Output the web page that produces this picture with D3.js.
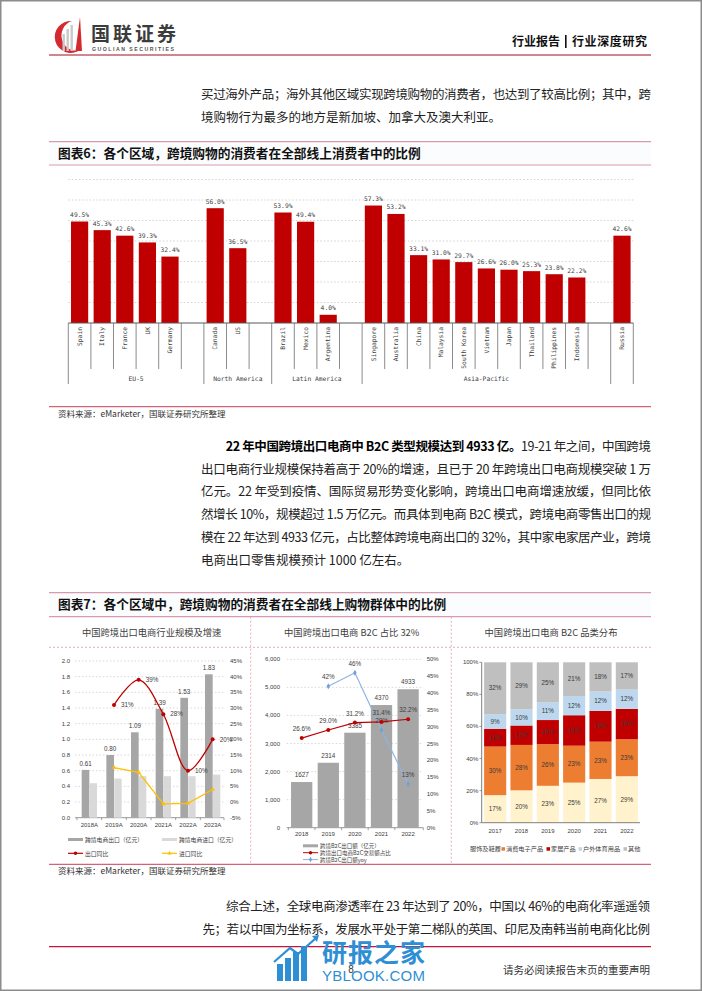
<!DOCTYPE html>
<html><head><meta charset="utf-8">
<script src="https://cdn.jsdelivr.net/npm/d3@7/dist/d3.min.js"></script>
<style>html,body{margin:0;padding:0;background:#fff;}svg{display:block;}</style>
</head><body>
<svg id="page" width="702" height="991"></svg>
<script>
// ---------------- DATA ----------------
const regionCategories = ["Spain","Italy","France","UK","Germany","Canada","US","Brazil","Mexico","Argentina","Singapore","Australia","China","Malaysia","South Korea","Vietnam","Japan","Thailand","Philippines","Indonesia","Russia"];
const regionValues = [49.5,45.3,42.6,39.3,32.4,56.0,36.5,53.9,49.4,4.0,57.3,53.2,33.1,31.0,29.7,26.6,26.0,25.3,23.8,22.2,42.6];
const regionGroupNames = ["EU-5","North America","Latin America","Asia-Pacific",""];
const regionGroupSizes = [5,2,3,10,1];

const scaleYears = ["2018A","2019A","2020A","2021A","2022A","2023A"];
const exportValues = [0.61,0.80,1.09,1.39,1.53,1.83];
const importValues = [0.44,0.50,0.53,0.53,0.53,0.55];
const exportYoY = [null,31,39,28,10,20];
const importYoY = [null,11,9.5,-0.6,-0.4,4];
const scaleLeftTicks = [0,0.2,0.4,0.6,0.8,1.0,1.2,1.4,1.6,1.8,2.0];
const scaleRightTicks = [-5,0,5,10,15,20,25,30,35,40,45];

const b2cYears = ["2018","2019","2020","2021","2022"];
const b2cExport = [1627,2314,3385,4370,4933];
const b2cShare = [26.6,29.0,31.2,31.4,32.2];
const b2cYoY = [null,42,46,29,13];
const b2cLeftTicks = [0,1000,2000,3000,4000,5000,6000];
const b2cRightTicks = [0,5,10,15,20,25,30,35,40,45,50];

const mixYears = ["2017","2018","2019","2020","2021","2022"];
const mixSeries = ["服饰及鞋履","消费电子产品","家居产品","户外体育用品","其他"];
const mixApparel = [17,20,23,25,27,29];
const mixElectronics = [30,28,26,23,23,23];
const mixHome = [11,12,15,19,19,19];
const mixOutdoor = [9,10,11,12,12,12];
const mixOther = [32,29,25,21,18,17];
const mixTicks = [0,0.2,0.4,0.6,0.8,1.0];

// ---------------- HELPERS ----------------
const CJK = "'Noto Sans CJK SC','Noto Sans',sans-serif";
const MONO = "'DejaVu Sans Mono','Liberation Mono',monospace";
const SANS = "'Liberation Sans',Arial,sans-serif";
const svg = d3.select("#page");
function txt(g,x,y,s,o={}){
  const t=g.append("text").attr("x",x).attr("y",y).text(s)
    .attr("font-family",o.ff||CJK).attr("font-size",o.fs||10).attr("fill",o.fill||"#333");
  if(o.fw) t.attr("font-weight",o.fw);
  if(o.anchor) t.attr("text-anchor",o.anchor);
  if(o.len) t.attr("textLength",o.len).attr("lengthAdjust","spacing");
  if(o.dy) t.attr("dy",o.dy);
  return t;
}
function hline(g,x1,x2,y,stroke,w,dash){
  const l=g.append("line").attr("x1",x1).attr("x2",x2).attr("y1",y).attr("y2",y).attr("stroke",stroke).attr("stroke-width",w);
  if(dash) l.attr("stroke-dasharray",dash);
  return l;
}
function vline(g,x,y1,y2,stroke,w,dash){
  const l=g.append("line").attr("x1",x).attr("x2",x).attr("y1",y1).attr("y2",y2).attr("stroke",stroke).attr("stroke-width",w);
  if(dash) l.attr("stroke-dasharray",dash);
  return l;
}

// page border
svg.append("rect").attr("x",0.75).attr("y",0.75).attr("width",700.5).attr("height",989.5)
  .attr("fill","#fff").attr("stroke","#8c8c8c").attr("stroke-width",1.5);

// ---------------- HEADER ----------------
const hd = svg.append("g");
hd.append("path").attr("d","M72,21 A16,16 0 1,0 80,50 A12.5,13 0 1,1 72,21 Z").attr("fill","#d42a2f");
hd.append("rect").attr("x",62.5).attr("y",34).attr("width",2.4).attr("height",17).attr("fill","#c9c9c9");
hd.append("rect").attr("x",66.5).attr("y",29).attr("width",2.4).attr("height",22).attr("fill","#c9c9c9");
hd.append("rect").attr("x",70.5).attr("y",25).attr("width",2.4).attr("height",26).attr("fill","#c9c9c9");
hd.append("polygon").attr("points","75.5,51 80,17 82,51").attr("fill","#d42a2f");
txt(hd,91,41,"国联证券",{fs:19,fw:700,fill:"#3c3c3c",len:85});
txt(hd,92,50.5,"GUOLIAN SECURITIES",{ff:SANS,fs:5.2,fw:700,fill:"#555",len:82});
txt(hd,512,46,"行业报告",{fs:12,fw:700,fill:"#111",len:48});
hd.append("rect").attr("x",565).attr("y",35).attr("width",1.6).attr("height",13).attr("fill","#111");
txt(hd,572,46,"行业深度研究",{fs:12,fw:700,fill:"#111",len:75});
hline(hd,49,651,55,"#d0868d",2);

// ---------------- PARAGRAPHS ----------------
const P = svg.append("g");
const PF = 12.5, PC = "#222";
txt(P,201,99,"买过海外产品；海外其他区域实现跨境购物的消费者，也达到了较高比例；其中，跨",{fs:PF,fill:PC,len:450});
txt(P,201,122,"境购物行为最多的地方是新加坡、加拿大及澳大利亚。",{fs:PF,fill:PC});

// para 2
const p2y = [451,473.7,496.4,519.1,541.8,564.5];
{
  const t = P.append("text").attr("x",225.7).attr("y",p2y[0]).attr("font-family",CJK).attr("font-size",PF).attr("fill",PC)
    .attr("textLength",425.3).attr("lengthAdjust","spacing");
  t.append("tspan").attr("font-weight",700).attr("fill","#000").text("22 年中国跨境出口电商中 B2C 类型规模达到 4933 亿。");
  t.append("tspan").text("19-21 年之间，中国跨境");
}
txt(P,201,p2y[1],"出口电商行业规模保持着高于 20%的增速，且已于 20 年跨境出口电商规模突破 1 万",{fs:PF,fill:PC,len:450});
txt(P,201,p2y[2],"亿元。22 年受到疫情、国际贸易形势变化影响，跨境出口电商增速放缓，但同比依",{fs:PF,fill:PC,len:450});
txt(P,201,p2y[3],"然增长 10%，规模超过 1.5 万亿元。而具体到电商 B2C 模式，跨境电商零售出口的规",{fs:PF,fill:PC,len:450});
txt(P,201,p2y[4],"模在 22 年达到 4933 亿元，占比整体跨境电商出口的 32%，其中家电家居产业，跨境",{fs:PF,fill:PC,len:450});
txt(P,201,p2y[5],"电商出口零售规模预计 1000 亿左右。",{fs:PF,fill:PC});

// para 3
txt(P,226,910.5,"综合上述，全球电商渗透率在 23 年达到了 20%，中国以 46%的电商化率遥遥领",{fs:PF,fill:PC,len:424});
txt(P,202.4,933.5,"先；若以中国为坐标系，发展水平处于第二梯队的英国、印尼及南韩当前电商化比例",{fs:PF,fill:PC,len:447.6});

// ---------------- TITLE BARS ----------------
function titleBar(yTop,yBot,text,base){
  svg.append("rect").attr("x",49).attr("y",yTop).attr("width",602).attr("height",yBot-yTop).attr("fill","#fafcfd");
  hline(svg,49,651,yTop,"#d99ab0",1.2);
  hline(svg,49,651,yBot,"#d99ab0",1.2);
  txt(svg,58,base,text,{fs:12.7,fw:700,fill:"#111"});
}
titleBar(141.7,165,"图表6：各个区域，跨境购物的消费者在全部线上消费者中的比例",157.8);
titleBar(592.7,616.7,"图表7：各个区域中，跨境购物的消费者在全部线上购物群体中的比例",609.3);

// source lines
function source(yLine,base){
  hline(svg,49,651,yLine,"#d4637a",1.3);
  txt(svg,58,base,"资料来源：eMarketer，国联证券研究所整理",{fs:8.5,fill:"#333"});
}
source(406.6,416.5);
source(864.3,874);

// ---------------- CHART 6 ----------------
const g6 = svg.append("g");
const slots=[], groupBounds=[];
{
  let k=0;
  regionGroupSizes.forEach((n,gi)=>{
    groupBounds.push(slots.length);
    for(let i=0;i<n;i++){ slots.push({name:regionCategories[k],value:regionValues[k]}); k++; }
    if(gi<regionGroupSizes.length-1) slots.push({name:null,value:null});
  });
  groupBounds.push(slots.length);
}
const x6 = d3.scaleBand().domain(d3.range(slots.length)).range([68.3,633.3]);
const y6 = d3.scaleLinear().domain([0,70]).range([323,179.5]);
const bx6 = i => i<slots.length ? x6(i) : x6.range()[1];
y6.ticks(7).filter(d=>d>0).forEach(t=>hline(g6,68.3,633.3,y6(t),"#c8c8c8",0.8,"1.5,2"));
const bars6 = slots.map((s,i)=>({...s,i})).filter(s=>s.value!=null);
g6.selectAll("rect.b6").data(bars6).join("rect").attr("class","b6")
  .attr("x",d=>x6(d.i)+x6.bandwidth()*0.12).attr("width",x6.bandwidth()*0.76)
  .attr("y",d=>y6(d.value)).attr("height",d=>y6(0)-y6(d.value)).attr("fill","#c00000");
g6.selectAll("text.v6").data(bars6).join("text").attr("class","v6")
  .attr("x",d=>x6(d.i)+x6.bandwidth()/2).attr("y",d=>y6(d.value)-4.5)
  .attr("text-anchor","middle").attr("font-family",MONO).attr("font-size",6.3).attr("fill","#404040")
  .text(d=>d3.format(".1f")(d.value)+"%");
// axis + separators
hline(g6,68.3,633.3,y6(0),"#595959",1);
d3.range(slots.length+1).forEach(i=>{
  const long = groupBounds.includes(i);
  vline(g6,bx6(i),y6(0),long?384:369,"#6f6f6f",0.8);
});
g6.selectAll("text.c6").data(bars6).join("text").attr("class","c6")
  .attr("transform",d=>`translate(${x6(d.i)+x6.bandwidth()/2},${y6(0)+4}) rotate(-90)`)
  .attr("text-anchor","end").attr("dy","0.35em")
  .attr("font-family",MONO).attr("font-size",6.3).attr("fill","#404040").text(d=>d.name);
regionGroupNames.forEach((n,gi)=>{
  if(!n) return;
  const cx=(bx6(groupBounds[gi])+bx6(groupBounds[gi+1]))/2;
  txt(g6,cx,380.5,n,{ff:MONO,fs:6.3,fill:"#404040",anchor:"middle"});
});

// ---------------- CHART 7 frame ----------------
const g7 = svg.append("g");
hline(g7,49,651,647.3,"#e4a3b8",0.9,"2,2");
vline(g7,250.7,616.7,864,"#e4a3b8",0.9,"2,2");
vline(g7,451.3,616.7,864,"#e4a3b8",0.9,"2,2");
txt(g7,151.7,636,"中国跨境出口电商行业规模及增速",{fs:9.3,fill:"#404040",anchor:"middle"});
txt(g7,351.7,636,"中国跨境出口电商 B2C 占比 32%",{fs:9.3,fill:"#404040",anchor:"middle"});
txt(g7,551,636,"中国跨境出口电商 B2C 品类分布",{fs:9.3,fill:"#404040",anchor:"middle"});
const AX = {ff:SANS,fs:6,fill:"#404040"};

// ---------------- CHART 7a ----------------
{
  const g = g7.append("g");
  const x = d3.scaleBand().domain(scaleYears).range([77,225]).paddingInner(0.38).paddingOuter(0.19);
  const yL = d3.scaleLinear().domain([0,2]).range([817.7,661]);
  const yR = d3.scaleLinear().domain([-5,45]).range([817.7,661]);
  scaleLeftTicks.forEach(t=>{
    if(t>0) hline(g,75,224,yL(t),"#cfcfcf",0.8,"1.5,2");
    txt(g,70,yL(t)+2,d3.format(".1f")(t),{...AX,anchor:"end"});
  });
  scaleRightTicks.forEach(t=>txt(g,230,yR(t)+2,t+"%",AX));
  hline(g,75,224,yL(0),"#8c8c8c",0.9);
  scaleYears.forEach((c,i)=>vline(g,x(c)-x.step()*x.paddingInner()/2,yL(0),yL(0)+2.5,"#8c8c8c",0.8));
  vline(g,224,yL(0),yL(0)+2.5,"#8c8c8c",0.8);
  const bw = x.bandwidth()/2;
  g.selectAll("rect.ex").data(scaleYears).join("rect").attr("x",d=>x(d)).attr("width",bw)
    .attr("y",(d,i)=>yL(exportValues[i])).attr("height",(d,i)=>yL(0)-yL(exportValues[i])).attr("fill","#a6a6a6");
  g.selectAll("rect.im").data(scaleYears).join("rect").attr("x",d=>x(d)+bw+0.3).attr("width",bw-0.3)
    .attr("y",(d,i)=>yL(importValues[i])).attr("height",(d,i)=>yL(0)-yL(importValues[i])).attr("fill","#d9d9d9");
  scaleYears.forEach((c,i)=>txt(g,x(c)+bw/2,yL(exportValues[i])-4,d3.format(".2f")(exportValues[i]),{...AX,fs:6.3,anchor:"middle"}));
  scaleYears.forEach(c=>txt(g,x(c)+x.bandwidth()/2,826.8,c,{...AX,anchor:"middle"}));
  const cx = c => x(c)+x.bandwidth()/2;
  const exPts = scaleYears.map((c,i)=>({c,v:exportYoY[i]})).filter(d=>d.v!=null);
  const imPts = scaleYears.map((c,i)=>({c,v:importYoY[i]})).filter(d=>d.v!=null);
  g.append("path").attr("d",d3.line().x(d=>cx(d.c)).y(d=>yR(d.v))(imPts)).attr("fill","none").attr("stroke","#ffc000").attr("stroke-width",1.3);
  imPts.forEach(d=>g.append("path").attr("d",d3.symbol(d3.symbolTriangle,9)()).attr("transform",`translate(${cx(d.c)},${yR(d.v)})`).attr("fill","#ffc000"));
  g.append("path").attr("d",d3.line().curve(d3.curveCatmullRom.alpha(0.5)).x(d=>cx(d.c)).y(d=>yR(d.v))(exPts)).attr("fill","none").attr("stroke","#c00000").attr("stroke-width",1.3);
  exPts.forEach(d=>{
    g.append("circle").attr("cx",cx(d.c)).attr("cy",yR(d.v)).attr("r",2).attr("fill","#c00000");
    txt(g,cx(d.c)+7,yR(d.v)+2.2,d.v+"%",{...AX,fs:6.3});
  });
  // legend
  g.append("rect").attr("x",68).attr("y",838).attr("width",15).attr("height",3).attr("fill","#a6a6a6");
  txt(g,85,842,"跨境电商出口（亿元）",{fs:5.8,fill:"#404040"});
  g.append("rect").attr("x",162).attr("y",838).attr("width",15).attr("height",3).attr("fill","#d9d9d9");
  txt(g,179,842,"跨境电商进口（亿元）",{fs:5.8,fill:"#404040"});
  hline(g,68,83,853.3,"#c00000",1.2); g.append("circle").attr("cx",75.5).attr("cy",853.3).attr("r",1.8).attr("fill","#c00000");
  txt(g,85,855.5,"出口同比",{fs:5.8,fill:"#404040"});
  hline(g,162,177,853.3,"#ffc000",1.2); g.append("path").attr("d",d3.symbol(d3.symbolTriangle,8)()).attr("transform","translate(169.5,853.3)").attr("fill","#ffc000");
  txt(g,179,855.5,"进口同比",{fs:5.8,fill:"#404040"});
}

// ---------------- CHART 7b ----------------
{
  const g = g7.append("g");
  const x = d3.scaleBand().domain(b2cYears).range([288.4,421.4]).paddingInner(0.2).paddingOuter(0.1);
  const yL = d3.scaleLinear().domain([0,6000]).range([827.7,659.3]);
  const yR = d3.scaleLinear().domain([0,50]).range([827.7,659.3]);
  b2cLeftTicks.forEach(t=>{
    if(t>0) hline(g,286.7,423.3,yL(t),"#cfcfcf",0.8,"1.5,2");
    txt(g,280,yL(t)+2,d3.format(",")(t),{...AX,anchor:"end"});
  });
  b2cRightTicks.forEach(t=>txt(g,426.7,yR(t)+2,t+"%",AX));
  hline(g,286.7,423.3,yL(0),"#8c8c8c",0.9);
  b2cYears.forEach(c=>vline(g,x(c)-x.step()*0.1,yL(0),yL(0)+2.5,"#8c8c8c",0.8));
  vline(g,423.3,yL(0),yL(0)+2.5,"#8c8c8c",0.8);
  const cx = c => x(c)+x.bandwidth()/2;
  g.selectAll("rect.b2").data(b2cYears).join("rect").attr("x",d=>x(d)).attr("width",x.bandwidth())
    .attr("y",(d,i)=>yL(b2cExport[i])).attr("height",(d,i)=>yL(0)-yL(b2cExport[i])).attr("fill","#a6a6a6");
  b2cYears.forEach((c,i)=>txt(g,cx(c),yL(b2cExport[i])-5,String(b2cExport[i]),{...AX,fs:6.3,anchor:"middle"}));
  b2cYears.forEach(c=>txt(g,cx(c),836,c,{...AX,anchor:"middle"}));
  const sh = b2cYears.map((c,i)=>({c,v:b2cShare[i]}));
  const yy = b2cYears.map((c,i)=>({c,v:b2cYoY[i]})).filter(d=>d.v!=null);
  g.append("path").attr("d",d3.line().x(d=>cx(d.c)).y(d=>yR(d.v))(yy)).attr("fill","none").attr("stroke","#8db4e2").attr("stroke-width",1.2);
  yy.forEach(d=>{
    g.append("path").attr("d",d3.symbol(d3.symbolDiamond,10)()).attr("transform",`translate(${cx(d.c)},${yR(d.v)})`).attr("fill","#6f9fd8");
    txt(g,cx(d.c),yR(d.v)-7,d.v+"%",{...AX,fs:6.3,anchor:"middle"});
  });
  g.append("path").attr("d",d3.line().x(d=>cx(d.c)).y(d=>yR(d.v))(sh)).attr("fill","none").attr("stroke","#c00000").attr("stroke-width",1.2);
  sh.forEach(d=>{
    g.append("circle").attr("cx",cx(d.c)).attr("cy",yR(d.v)).attr("r",2).attr("fill","#c00000");
    txt(g,cx(d.c),yR(d.v)-7,d3.format(".1f")(d.v)+"%",{...AX,fs:6.3,anchor:"middle"});
  });
  // legend
  g.append("rect").attr("x",303).attr("y",844.3).attr("width",15).attr("height",3).attr("fill","#a6a6a6");
  txt(g,320,847.7,"跨境B2C出口额（亿元）",{fs:5.5,fill:"#404040"});
  hline(g,303,318,852.7,"#c00000",1); g.append("circle").attr("cx",310.5).attr("cy",852.7).attr("r",1.7).attr("fill","#c00000");
  txt(g,320,854.6,"跨境出口电商B2C交易额占比",{fs:5.5,fill:"#404040"});
  hline(g,303,318,859.6,"#8db4e2",1); g.append("path").attr("d",d3.symbol(d3.symbolDiamond,8)()).attr("transform","translate(310.5,859.6)").attr("fill","#6f9fd8");
  txt(g,320,861.6,"跨境B2C出口额yoy",{fs:5.5,fill:"#404040"});
}

// ---------------- CHART 7c ----------------
{
  const g = g7.append("g");
  const colors = ["#fff2cc","#ed7d31","#c00000","#bdd7ee","#bfbfbf"];
  const cols = [mixApparel,mixElectronics,mixHome,mixOutdoor,mixOther];
  const rows = mixYears.map((yr,i)=>{ const o={year:yr}; mixSeries.forEach((s,j)=>o[s]=cols[j][i]); return o; });
  const stacked = d3.stack().keys(mixSeries).offset(d3.stackOffsetExpand)(rows);
  const x = d3.scaleBand().domain(mixYears).range([482,640]).paddingInner(0.16).paddingOuter(0.08);
  const y = d3.scaleLinear().domain([0,1]).range([822.7,662.3]);
  stacked.forEach((layer,j)=>{
    g.selectAll("rect.s"+j).data(layer).join("rect")
      .attr("x",d=>x(d.data.year)).attr("width",x.bandwidth())
      .attr("y",d=>y(d[1])).attr("height",d=>y(d[0])-y(d[1])).attr("fill",colors[j]);
    layer.forEach(d=>txt(g,x(d.data.year)+x.bandwidth()/2,(y(d[0])+y(d[1]))/2+2.2,d.data[layer.key]+"%",{...AX,fs:6.3,fill:"#3a3a3a",anchor:"middle"}));
  });
  vline(g,481.7,662.3,822.7,"#7f7f7f",1);
  hline(g,481.7,640,822.7,"#7f7f7f",1);
  mixTicks.forEach(t=>{
    hline(g,479.5,481.7,y(t),"#7f7f7f",0.8);
    txt(g,478.3,y(t)+2,d3.format(".0%")(t),{...AX,anchor:"end"});
  });
  mixYears.forEach(c=>txt(g,x(c)+x.bandwidth()/2,833,c,{...AX,anchor:"middle"}));
  // legend
  const lx = [470,502,547,579,624];
  mixSeries.forEach((s,j)=>{
    if(j>0) g.append("rect").attr("x",lx[j]-0.5).attr("y",847.2).attr("width",3.5).attr("height",3.5).attr("fill",colors[j]);
    txt(g,lx[j]+(j>0?4:0),850.6,s,{fs:6.2,fill:"#404040"});
  });
}

// ---------------- FOOTER ----------------
const ft = svg.append("g");
hline(ft,49,651,946.7,"#c8143c",1.3);
txt(ft,650,974,"请务必阅读报告末页的重要声明",{fs:10.5,fill:"#333",anchor:"end"});
// watermark
const wm = ft.append("g");
[[277,964],[285,958],[293,952],[301,946]].forEach(([bxw,top])=>wm.append("rect").attr("x",bxw).attr("y",top).attr("width",6).attr("height",981-top).attr("fill","#2f8fd4"));
wm.append("path").attr("d","M274,962 L290,948 L298,954 L316,938").attr("fill","none").attr("stroke","#2f8fd4").attr("stroke-width",2.2);
wm.append("polygon").attr("points","312,936 319,935 317,942").attr("fill","#2f8fd4");
txt(wm,322,962,"研报之家",{fs:25,fw:700,fill:"#2f8fd4",len:103});
txt(wm,322,981,"YBLOOK.COM",{ff:SANS,fs:15,fill:"#2f8fd4",len:103});
txt(ft,351,973,"8",{ff:SANS,fs:10,fill:"#333",anchor:"middle"});
</script></body></html>
